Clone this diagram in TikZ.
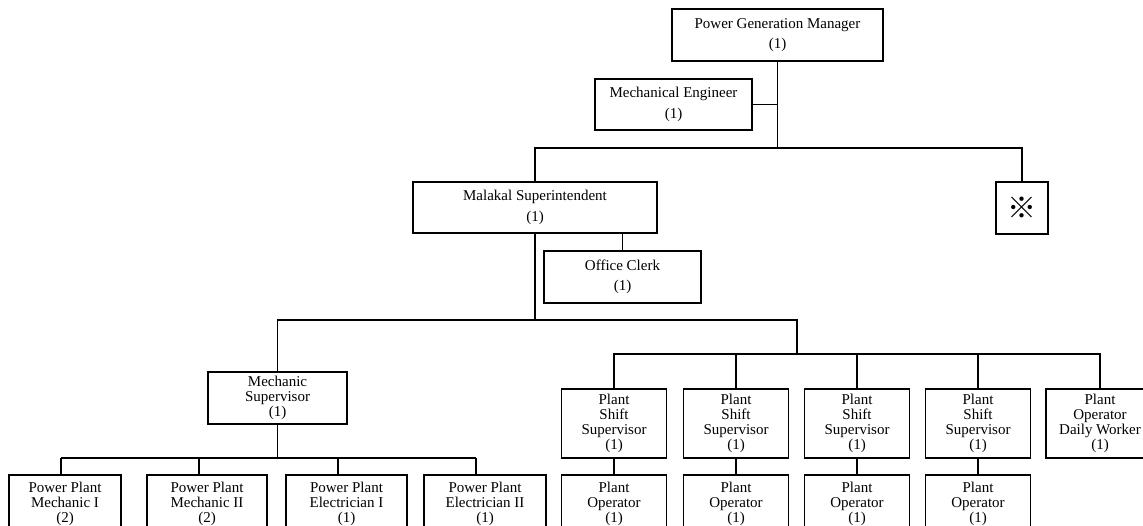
\documentclass[tikz,border=0pt]{standalone}
\usepackage{fontspec}
\setmainfont{Liberation Serif}
\newfontfamily\cjk{Noto Sans CJK SC}
\begin{document}
\begin{tikzpicture}[x=1pt,y=-1pt,line width=1.3pt,
  box/.style={draw,line width=1.3pt,inner sep=0pt,align=center,anchor=center},
  pair/.style={box,font=\fontsize{15}{20.5}\selectfont},
  stack/.style={box,font=\fontsize{15}{15}\selectfont},
  shiftbox/.style={stack,minimum width=105pt,minimum height=69pt},
  opbox/.style={stack,minimum height=54pt,text depth=0pt},
  link/.style={draw,line width=1.3pt}]
\useasboundingbox (0,0) rectangle (1143,526);

% head of the department and its staff engineer
\node[pair,line width=2.8pt,minimum width=211pt,minimum height=52pt] (pgm) at (777.5,35) {Power Generation Manager\\(1)};
\node[pair,minimum width=157pt,minimum height=51pt] (me) at (673.5,104.5) {Mechanical Engineer\\(1)};

% second level
\node[pair,minimum width=244pt,minimum height=51pt] (mal) at (535,207.5) {Malakal Superintendent\\(1)};
\node[box,minimum width=52pt,minimum height=52pt,font=\cjk\fontsize{29}{29}\selectfont] (ref) at (1022,208) {※};
\node[pair,minimum width=157pt,minimum height=52pt] (clerk) at (622.5,277) {Office Clerk\\(1)};

% mechanic section
\node[stack,minimum width=139pt,minimum height=52pt] (ms) at (277.5,398) {Mechanic\\Supervisor\\(1)};
\node[opbox,minimum width=112pt] (b1) at (65,502) {Power Plant\\Mechanic I\\(2)};
\node[opbox,minimum width=120pt] (b2) at (207,502) {Power Plant\\Mechanic II\\(2)};
\node[opbox,minimum width=121pt] (b3) at (346.5,502) {Power Plant\\Electrician I\\(1)};
\node[opbox,minimum width=122pt] (b4) at (485,502) {Power Plant\\Electrician II\\(1)};

% operation section
\node[shiftbox] (s1) at (614,423.5) {Plant\\Shift\\Supervisor\\(1)};
\node[shiftbox] (s2) at (736,423.5) {Plant\\Shift\\Supervisor\\(1)};
\node[shiftbox] (s3) at (857,423.5) {Plant\\Shift\\Supervisor\\(1)};
\node[shiftbox] (s4) at (978,423.5) {Plant\\Shift\\Supervisor\\(1)};
\node[shiftbox,minimum width=108pt] (s5) at (1100,423.5) {Plant\\Operator\\Daily Worker\\(1)};
\node[opbox,minimum width=105pt] (o1) at (614,502) {Plant\\Operator\\(1)};
\node[opbox,minimum width=105pt] (o2) at (736,502) {Plant\\Operator\\(1)};
\node[opbox,minimum width=105pt] (o3) at (857,502) {Plant\\Operator\\(1)};
\node[opbox,minimum width=105pt] (o4) at (978,502) {Plant\\Operator\\(1)};

% bus lines
\coordinate (bus1) at (777,148);
\coordinate (bus2) at (535,320);
\coordinate (bus3) at (797,354);
\coordinate (bus4) at (277.5,458);
\coordinate (d1) at (61,458);
\coordinate (d2) at (199,458);
\coordinate (d3) at (338,458);
\coordinate (d4) at (476,458);

% connectors
\path[link] (pgm.south) -- (pgm.south |- bus1);
\path[link] (me.east) -- (me.east -| pgm.south);
\path[link] (mal.north) |- (ref.north |- bus1) -- (ref.north);
\path[link] (clerk.north) -- (clerk.north |- mal.south);
\path[link] (mal.south) -- (mal.south |- bus2);
\path[link] (ms.north) |- (bus3 |- bus2) -- (bus3);
\path[link] (s1.north) |- (s5.north |- bus3) -- (s5.north);
\path[link] (s2.north) -- (s2.north |- bus3);
\path[link] (s3.north) -- (s3.north |- bus3);
\path[link] (s4.north) -- (s4.north |- bus3);
\path[link] (s1.south) -- (o1.north);
\path[link] (s2.south) -- (o2.north);
\path[link] (s3.south) -- (o3.north);
\path[link] (s4.south) -- (o4.north);
\path[link] (ms.south) -- (bus4);
\path[link] (d1) -- (d4);
\path[link] (d1) -- (d1 |- b1.north);
\path[link] (d2) -- (d2 |- b2.north);
\path[link] (d3) -- (d3 |- b3.north);
\path[link] (d4) -- (d4 |- b4.north);
\end{tikzpicture}
\end{document}
